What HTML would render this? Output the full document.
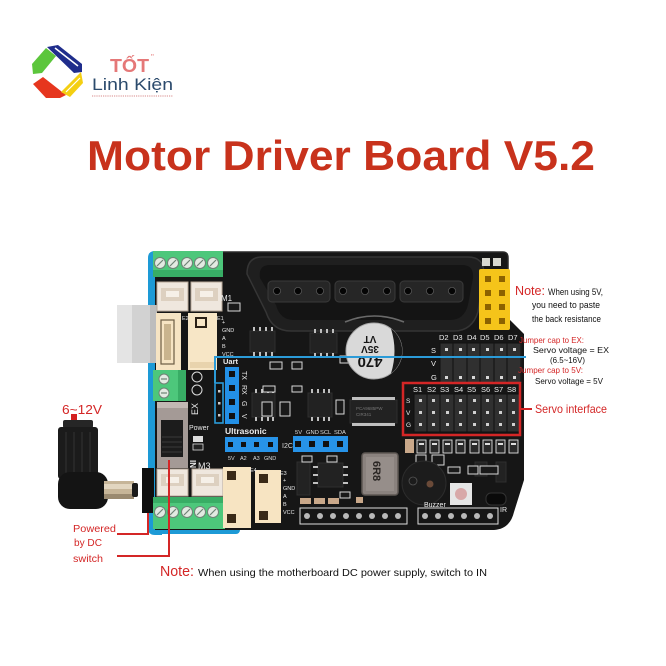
<!DOCTYPE html>
<html><head><meta charset="utf-8"><style>
html,body{margin:0;padding:0;background:#fff;}
svg{display:block;}
text{font-family:"Liberation Sans",sans-serif;}
</style></head><body>
<svg width="666" height="666" viewBox="0 0 666 666" xmlns="http://www.w3.org/2000/svg">
<rect width="666" height="666" fill="#fff"/>

<!-- LOGO -->
<polygon points="47,47 58,45 82,64 82,72 74,73" fill="#1f2d8c"/>
<line x1="55" y1="48" x2="78" y2="66" stroke="#fff" stroke-width="1.5"/>
<polygon points="32,64 46,48 56,56 42,73 33,74" fill="#5cc63c"/>
<polygon points="33,84 43,77 66,95 60,98 46,98" fill="#e6361e"/>
<polygon points="61,92 81,72 83,83 70,97" fill="#f4cf12"/>
<line x1="66" y1="92" x2="80" y2="78" stroke="#fff" stroke-width="1.2"/>
<text x="110" y="72" font-size="18" font-weight="bold" fill="#e57878" textLength="39" lengthAdjust="spacingAndGlyphs">TỐT</text>
<text x="151" y="60" font-size="8" fill="#e57878">"</text>
<text x="92" y="90" font-family="Liberation Serif,serif" font-size="17" fill="#2b4a6c" textLength="81" lengthAdjust="spacingAndGlyphs">Linh Kiện</text>
<line x1="92" y1="96" x2="173" y2="96" stroke="#d88a8a" stroke-width="1" stroke-dasharray="1.2,1"/>

<!-- TITLE -->
<text x="87" y="170" font-size="42" font-weight="bold" fill="#c8321c" textLength="508" lengthAdjust="spacingAndGlyphs">Motor Driver Board V5.2</text>

<!-- Arduino blue underneath -->
<path d="M148,258 Q148,251 155,251 L162,251 L162,535 L155,535 Q148,535 148,528 Z" fill="#1d9ad6"/>
<rect x="150" y="524" width="90" height="10" rx="4" fill="#1d9ad6"/>

<!-- black shield -->
<path d="M155,252 L503,252 Q508,252 508,258 L508,318 L524,334 L524,480 L514,512 Q510,529 494,530 L155,530 Z" fill="#161616"/>
<path d="M222,252 L503,252 Q508,252 508,258 L508,318" fill="none" stroke="#2a2a2a" stroke-width="1.5"/>

<!-- grey USB -->
<rect x="117" y="305" width="40" height="58" fill="#d2d2d2"/>
<rect x="117" y="305" width="15" height="58" fill="#e4e4e4"/>
<rect x="150" y="305" width="7" height="58" fill="#bdbdbd"/>

<!-- DC plug -->
<rect x="71" y="414" width="6" height="9" fill="#d42020"/>
<rect x="63" y="420" width="30" height="8" rx="2" fill="#262626"/>
<rect x="58" y="427" width="40" height="52" rx="3" fill="#1b1b1b"/>
<g stroke="#303030" stroke-width="1.2">
<line x1="66" y1="432" x2="66" y2="474"/><line x1="74" y1="432" x2="74" y2="474"/><line x1="82" y1="432" x2="82" y2="474"/><line x1="90" y1="432" x2="90" y2="474"/>
</g>
<rect x="58" y="472" width="50" height="37" rx="12" fill="#141414"/>
<rect x="104" y="481" width="30" height="18" fill="#c6b598"/>
<rect x="104" y="484" width="30" height="5" fill="#e2d6c0"/>
<rect x="104" y="494" width="30" height="5" fill="#9a8a70"/>
<rect x="132" y="483" width="6" height="14" rx="2" fill="#1a1a1a"/>
<!-- DC jack holder -->
<rect x="142" y="468" width="12" height="45" fill="#0f0f0f"/>

<!-- green terminals -->
<rect x="153" y="251" width="70" height="26" fill="#4dc77b"/>
<rect x="153" y="270" width="70" height="7" fill="#38ad65"/>
<g fill="#e2eae2" stroke="#6f8276" stroke-width="1">
<circle cx="160" cy="263" r="5.5"/><circle cx="173" cy="263" r="5.5"/><circle cx="187" cy="263" r="5.5"/><circle cx="200" cy="263" r="5.5"/><circle cx="213" cy="263" r="5.5"/>
</g>
<g stroke="#6f8276" stroke-width="1.2">
<line x1="157" y1="266" x2="163" y2="260"/><line x1="170" y1="266" x2="176" y2="260"/><line x1="184" y1="266" x2="190" y2="260"/><line x1="197" y1="266" x2="203" y2="260"/><line x1="210" y1="266" x2="216" y2="260"/>
</g>

<rect x="153" y="370" width="33" height="31" fill="#4dc77b"/>
<rect x="178" y="370" width="8" height="31" fill="#38ad65"/>
<g fill="#e2eae2" stroke="#6f8276"><circle cx="164" cy="379" r="5"/><circle cx="164" cy="393" r="5"/></g>
<g stroke="#6f8276" stroke-width="1.2"><line x1="161" y1="379" x2="167" y2="379"/><line x1="161" y1="393" x2="167" y2="393"/></g>

<rect x="153" y="497" width="72" height="32" fill="#4dc77b"/>
<rect x="153" y="497" width="72" height="6" fill="#38ad65"/>
<g fill="#e2eae2" stroke="#6f8276" stroke-width="1">
<circle cx="160" cy="512" r="5.5"/><circle cx="173" cy="512" r="5.5"/><circle cx="187" cy="512" r="5.5"/><circle cx="200" cy="512" r="5.5"/><circle cx="213" cy="512" r="5.5"/>
</g>
<g stroke="#6f8276" stroke-width="1.2">
<line x1="157" y1="515" x2="163" y2="509"/><line x1="170" y1="515" x2="176" y2="509"/><line x1="184" y1="515" x2="190" y2="509"/><line x1="197" y1="515" x2="203" y2="509"/><line x1="210" y1="515" x2="216" y2="509"/>
</g>

<!-- white JSTs -->
<g fill="#efe7de" stroke="#b9aa9a" stroke-width="1">
<rect x="157" y="282" width="31" height="29"/><rect x="191" y="282" width="31" height="29"/>
<rect x="157" y="469" width="31" height="27"/><rect x="192" y="469" width="31" height="27"/>
</g>
<g fill="#ddd0c0">
<rect x="161" y="288" width="23" height="13"/><rect x="195" y="288" width="23" height="13"/>
<rect x="161" y="474" width="23" height="12"/><rect x="196" y="474" width="23" height="12"/>
</g>
<g fill="#f6f0e8"><rect x="166" y="291" width="13" height="6"/><rect x="200" y="291" width="13" height="6"/><rect x="166" y="477" width="13" height="6"/><rect x="201" y="477" width="13" height="6"/></g>

<!-- E2 / E1 cream -->
<rect x="156" y="313" width="25" height="57" fill="#f6e4c3"/>
<rect x="161" y="320" width="13" height="44" fill="none" stroke="#6c5c44" stroke-width="1.2"/>
<g fill="#c9b48e"><rect x="164" y="324" width="7" height="36"/></g>
<rect x="188" y="313" width="29" height="57" fill="#f7e6c6"/>
<rect x="195" y="317" width="12" height="11" fill="#2a2016"/>
<rect x="197" y="319" width="8" height="7" fill="#f7e6c6"/>
<rect x="190" y="362" width="25" height="6" fill="#e8d3ad"/>

<!-- switch -->
<rect x="157" y="402" width="31" height="66" fill="#a49a96"/>
<rect x="157" y="402" width="31" height="6" fill="#c2b8b4"/>
<rect x="161" y="420" width="22" height="37" fill="#1c1c1c"/>
<g stroke="#3a3a3a" stroke-width="1"><line x1="162" y1="437" x2="182" y2="437"/><line x1="162" y1="442" x2="182" y2="442"/><line x1="162" y1="447" x2="182" y2="447"/><line x1="162" y1="452" x2="182" y2="452"/></g>

<!-- E4/E3 cream -->
<rect x="223" y="467" width="28" height="61" fill="#f7e4c2"/>
<rect x="227" y="471" width="9" height="9" fill="#3a2a18"/>
<rect x="227" y="514" width="9" height="9" fill="#3a2a18"/>
<rect x="255" y="470" width="26" height="53" fill="#f7e4c2"/>
<rect x="259" y="474" width="9" height="9" fill="#3a2a18"/>
<rect x="259" y="511" width="9" height="9" fill="#3a2a18"/>

<!-- PS2 connector -->
<path d="M262,257 L468,257 Q484,257 484,274 L478,312 Q472,331 454,331 L291,331 Q272,331 266,312 L247,274 Q247,257 262,257 Z" fill="#1f1f1f" stroke="#353535" stroke-width="1.5"/>
<path d="M270,265 L462,265 Q474,265 473,278 L468,305 Q464,320 450,320 L294,320 Q280,320 276,305 L260,278 Q258,265 270,265 Z" fill="#141414"/>
<g fill="#262626" stroke="#3a3a3a" stroke-width="1">
<rect x="268" y="281" width="62" height="21" rx="4"/><rect x="335" y="281" width="60" height="21" rx="4"/><rect x="400" y="281" width="63" height="21" rx="4"/>
</g>
<g fill="#050505" stroke="#555" stroke-width="0.8">
<circle cx="277" cy="291" r="3.6"/><circle cx="298" cy="291" r="3.6"/><circle cx="320" cy="291" r="3.6"/>
<circle cx="343" cy="291" r="3.6"/><circle cx="365" cy="291" r="3.6"/><circle cx="387" cy="291" r="3.6"/>
<circle cx="408" cy="291" r="3.6"/><circle cx="430" cy="291" r="3.6"/><circle cx="452" cy="291" r="3.6"/>
</g>
<path d="M345,322 Q374,310 404,322" fill="none" stroke="#6a6a6a" stroke-width="1.5"/>

<!-- small parts near top right -->
<rect x="482" y="258" width="8" height="8" fill="#d8d8d0"/><rect x="493" y="258" width="8" height="8" fill="#d8d8d0"/>

<!-- yellow header -->
<rect x="479" y="269" width="31" height="61" rx="2" fill="#f5c41a"/>
<g fill="#8c6200">
<rect x="485" y="276" width="6" height="6"/><rect x="499" y="276" width="6" height="6"/>
<rect x="485" y="290" width="6" height="6"/><rect x="499" y="290" width="6" height="6"/>
<rect x="485" y="304" width="6" height="6"/><rect x="499" y="304" width="6" height="6"/>
<rect x="485" y="318" width="6" height="6"/><rect x="499" y="318" width="6" height="6"/>
</g>

<!-- chips -->
<g fill="#222" stroke="#2f2f2f" stroke-width="1">
<rect x="250" y="331" width="25" height="21"/><rect x="310" y="333" width="27" height="20"/>
<rect x="252" y="393" width="23" height="24"/><rect x="308" y="393" width="24" height="24"/>
<rect x="350" y="400" width="47" height="23"/><rect x="318" y="463" width="25" height="24"/>
<rect x="297" y="462" width="13" height="33"/>
<rect x="475" y="462" width="12" height="14"/><rect x="496" y="462" width="10" height="20"/>
</g>
<g fill="#bfbfbf">
<rect x="253" y="327" width="2" height="4"/><rect x="259" y="327" width="2" height="4"/><rect x="265" y="327" width="2" height="4"/><rect x="271" y="327" width="2" height="4"/>
<rect x="253" y="352" width="2" height="4"/><rect x="259" y="352" width="2" height="4"/><rect x="265" y="352" width="2" height="4"/><rect x="271" y="352" width="2" height="4"/>
<rect x="314" y="329" width="2" height="4"/><rect x="320" y="329" width="2" height="4"/><rect x="326" y="329" width="2" height="4"/><rect x="332" y="329" width="2" height="4"/>
<rect x="314" y="353" width="2" height="4"/><rect x="320" y="353" width="2" height="4"/><rect x="326" y="353" width="2" height="4"/><rect x="332" y="353" width="2" height="4"/>
<rect x="255" y="389" width="2" height="4"/><rect x="261" y="389" width="2" height="4"/><rect x="267" y="389" width="2" height="4"/><rect x="272" y="389" width="2" height="4"/>
<rect x="255" y="417" width="2" height="4"/><rect x="261" y="417" width="2" height="4"/><rect x="267" y="417" width="2" height="4"/><rect x="272" y="417" width="2" height="4"/>
<rect x="311" y="389" width="2" height="4"/><rect x="317" y="389" width="2" height="4"/><rect x="323" y="389" width="2" height="4"/><rect x="328" y="389" width="2" height="4"/>
<rect x="311" y="417" width="2" height="4"/><rect x="317" y="417" width="2" height="4"/><rect x="323" y="417" width="2" height="4"/><rect x="328" y="417" width="2" height="4"/>
<rect x="352" y="397" width="43" height="3"/><rect x="352" y="423" width="43" height="3"/>
<rect x="313" y="466" width="5" height="2"/><rect x="313" y="474" width="5" height="2"/><rect x="313" y="482" width="5" height="2"/>
<rect x="343" y="466" width="5" height="2"/><rect x="343" y="474" width="5" height="2"/><rect x="343" y="482" width="5" height="2"/>
</g>
<text x="356" y="410" font-size="4.5" fill="#777">PCA9685PW</text>
<text x="356" y="416" font-size="4.5" fill="#777">CIR341</text>

<!-- small smd parts with white outlines -->
<g fill="#1a1a1a" stroke="#d8d8d8" stroke-width="1">
<rect x="228" y="303" width="12" height="8"/><rect x="270" y="362" width="12" height="7"/><rect x="292" y="362" width="10" height="7"/>
<rect x="263" y="386" width="12" height="6"/><rect x="262" y="402" width="10" height="14"/><rect x="280" y="402" width="10" height="14"/>
<rect x="292" y="386" width="10" height="6"/><rect x="336" y="400" width="8" height="14"/><rect x="340" y="356" width="10" height="7"/>
<rect x="302" y="456" width="10" height="6"/><rect x="327" y="456" width="10" height="6"/><rect x="340" y="492" width="10" height="6"/>
<rect x="416" y="455" width="10" height="14"/><rect x="432" y="455" width="12" height="10"/><rect x="448" y="467" width="12" height="6"/>
<rect x="468" y="466" width="10" height="8"/><rect x="480" y="466" width="18" height="8"/>
</g>
<g fill="#2a2a2a" stroke="#e0e0e0" stroke-width="0.9">
<rect x="417" y="440" width="9" height="13"/><rect x="430" y="440" width="9" height="13"/><rect x="443" y="440" width="9" height="13"/><rect x="456" y="440" width="9" height="13"/>
<rect x="470" y="440" width="9" height="13"/><rect x="483" y="440" width="9" height="13"/><rect x="496" y="440" width="9" height="13"/><rect x="509" y="440" width="9" height="13"/>
</g>
<g fill="#ddd"><rect x="419" y="443" width="5" height="2"/><rect x="432" y="443" width="5" height="2"/><rect x="445" y="443" width="5" height="2"/><rect x="458" y="443" width="5" height="2"/><rect x="472" y="443" width="5" height="2"/><rect x="485" y="443" width="5" height="2"/><rect x="498" y="443" width="5" height="2"/><rect x="511" y="443" width="5" height="2"/></g>
<rect x="405" y="439" width="9" height="14" fill="#c9a88a"/>
<g fill="#c9a88a"><rect x="300" y="498" width="11" height="6"/><rect x="314" y="498" width="11" height="6"/><rect x="328" y="498" width="11" height="6"/></g>
<rect x="356" y="497" width="7" height="6" fill="#c9a88a"/>

<!-- D2-D7 header -->
<rect x="440" y="343" width="82" height="40" fill="#242424"/>
<g fill="#303030" stroke="#111" stroke-width="1">
<rect x="440" y="343" width="13" height="40"/><rect x="453" y="343" width="14" height="40"/><rect x="467" y="343" width="13" height="40"/>
<rect x="480" y="343" width="14" height="40"/><rect x="494" y="343" width="13" height="40"/><rect x="507" y="343" width="14" height="40"/>
</g>
<g fill="#d8d8d8">
<rect x="445" y="348" width="3" height="3"/><rect x="459" y="348" width="3" height="3"/><rect x="472" y="348" width="3" height="3"/><rect x="486" y="348" width="3" height="3"/><rect x="500" y="348" width="3" height="3"/><rect x="513" y="348" width="3" height="3"/>
<rect x="445" y="376" width="3" height="3"/><rect x="459" y="376" width="3" height="3"/><rect x="472" y="376" width="3" height="3"/><rect x="486" y="376" width="3" height="3"/><rect x="500" y="376" width="3" height="3"/><rect x="513" y="376" width="3" height="3"/>
</g>
<g font-size="7.5" fill="#eee">
<text x="439" y="340">D2</text><text x="453" y="340">D3</text><text x="467" y="340">D4</text><text x="480" y="340">D5</text><text x="494" y="340">D6</text><text x="508" y="340">D7</text>
<text x="431" y="353">S</text><text x="431" y="366">V</text><text x="431" y="380">G</text>
</g>

<!-- servo header -->
<rect x="414" y="394" width="106" height="38" fill="#242424"/>
<g fill="#303030" stroke="#101010" stroke-width="1">
<rect x="414" y="394" width="13" height="38"/><rect x="427" y="394" width="13" height="38"/><rect x="440" y="394" width="14" height="38"/><rect x="454" y="394" width="13" height="38"/>
<rect x="467" y="394" width="14" height="38"/><rect x="481" y="394" width="13" height="38"/><rect x="494" y="394" width="13" height="38"/><rect x="507" y="394" width="13" height="38"/>
</g>
<g fill="#d0d0d0">
<rect x="419" y="399" width="3" height="3"/><rect x="432" y="399" width="3" height="3"/><rect x="446" y="399" width="3" height="3"/><rect x="459" y="399" width="3" height="3"/><rect x="473" y="399" width="3" height="3"/><rect x="486" y="399" width="3" height="3"/><rect x="499" y="399" width="3" height="3"/><rect x="512" y="399" width="3" height="3"/>
<rect x="419" y="411" width="3" height="3"/><rect x="432" y="411" width="3" height="3"/><rect x="446" y="411" width="3" height="3"/><rect x="459" y="411" width="3" height="3"/><rect x="473" y="411" width="3" height="3"/><rect x="486" y="411" width="3" height="3"/><rect x="499" y="411" width="3" height="3"/><rect x="512" y="411" width="3" height="3"/>
<rect x="419" y="423" width="3" height="3"/><rect x="432" y="423" width="3" height="3"/><rect x="446" y="423" width="3" height="3"/><rect x="459" y="423" width="3" height="3"/><rect x="473" y="423" width="3" height="3"/><rect x="486" y="423" width="3" height="3"/><rect x="499" y="423" width="3" height="3"/><rect x="512" y="423" width="3" height="3"/>
</g>
<g font-size="7.5" fill="#eee">
<text x="413" y="392">S1</text><text x="427" y="392">S2</text><text x="440" y="392">S3</text><text x="454" y="392">S4</text><text x="467" y="392">S5</text><text x="481" y="392">S6</text><text x="494" y="392">S7</text><text x="507" y="392">S8</text>
<text x="406" y="403" font-size="6.5">S</text><text x="406" y="415" font-size="6.5">V</text><text x="406" y="427" font-size="6.5">G</text>
</g>
<rect x="403" y="383" width="117" height="52" fill="none" stroke="#d42626" stroke-width="2.5"/>

<!-- capacitor -->
<circle cx="374" cy="351" r="28" fill="#d9d9d9"/>
<circle cx="374" cy="351" r="28" fill="none" stroke="#aaa" stroke-width="1"/>
<path d="M391,328.6 A28,28 0 0 1 391,373.4 Q398,351 391,328.6 Z" fill="#1a1a1a"/>
<g transform="rotate(180 374 351)" fill="#151515" font-weight="bold" text-anchor="middle">
<text x="378" y="345" font-size="15">470</text>
<text x="378" y="356" font-size="10">35V</text>
<text x="378" y="366" font-size="10">VT</text>
</g>

<!-- inductor 6R8 -->
<rect x="362" y="453" width="36" height="42" rx="3" fill="#8a827e" stroke="#5e5854" stroke-width="1.5"/>
<rect x="366" y="457" width="28" height="34" fill="#968e8a"/>
<text transform="translate(373 461) rotate(90)" font-size="11" font-weight="bold" fill="#2a2624">6R8</text>

<!-- buzzer -->
<circle cx="424" cy="483" r="22" fill="#1c1c1c" stroke="#2c2c2c" stroke-width="1"/>
<circle cx="430" cy="484" r="3.5" fill="#6a4a38"/>
<circle cx="413" cy="481" r="4" fill="none" stroke="#555" stroke-width="0.8"/>
<!-- RGB LED -->
<rect x="450" y="483" width="22" height="22" fill="#e6e6e6"/>
<circle cx="461" cy="494" r="6" fill="#d8a8a8"/>
<!-- IR receiver -->
<rect x="486" y="493" width="20" height="12" rx="5" fill="#0a0a0a" stroke="#333"/>

<!-- bottom pin headers -->
<rect x="300" y="508" width="107" height="16" fill="none" stroke="#ddd" stroke-width="1"/>
<g fill="#b8b8b8"><circle cx="307" cy="516" r="3"/><circle cx="320" cy="516" r="3"/><circle cx="333" cy="516" r="3"/><circle cx="346" cy="516" r="3"/><circle cx="359" cy="516" r="3"/><circle cx="372" cy="516" r="3"/><circle cx="385" cy="516" r="3"/><circle cx="398" cy="516" r="3"/></g>
<rect x="418" y="508" width="80" height="16" fill="none" stroke="#ddd" stroke-width="1"/>
<g fill="#b8b8b8"><circle cx="425" cy="516" r="3"/><circle cx="438" cy="516" r="3"/><circle cx="451" cy="516" r="3"/><circle cx="464" cy="516" r="3"/><circle cx="477" cy="516" r="3"/><circle cx="490" cy="516" r="3"/></g>
<text x="424" y="507" font-size="7" fill="#eee">Buzzer</text>
<text x="500" y="512" font-size="7" fill="#eee">IR</text>

<!-- blue line & jumper -->
<line x1="215" y1="357" x2="526" y2="357" stroke="#2b9bd8" stroke-width="2"/>
<line x1="215" y1="356" x2="215" y2="383" stroke="#2b9bd8" stroke-width="2"/>
<rect x="215" y="383" width="8" height="40" fill="#111" stroke="#2b9bd8" stroke-width="1.6"/>
<g fill="#ccc"><rect x="218" y="390" width="2.5" height="2.5"/><rect x="218" y="402" width="2.5" height="2.5"/><rect x="218" y="414" width="2.5" height="2.5"/></g>

<!-- Uart header -->
<rect x="225" y="367" width="14" height="57" fill="#2390e6"/>
<g fill="#111"><rect x="229" y="371" width="6" height="6"/><rect x="229" y="385" width="6" height="6"/><rect x="229" y="399" width="6" height="6"/><rect x="229" y="413" width="6" height="6"/></g>
<text x="223" y="364" font-size="7.5" font-weight="bold" fill="#eee">Uart</text>
<g font-size="7" fill="#eee">
<text transform="translate(242 371) rotate(90)">TX</text>
<text transform="translate(242 385) rotate(90)">RX</text>
<text transform="translate(242 401) rotate(90)">G</text>
<text transform="translate(242 414) rotate(90)">V</text>
</g>

<!-- Ultrasonic header -->
<rect x="225" y="437" width="53" height="15" fill="#2793e8"/>
<g fill="#111"><rect x="228" y="442" width="5" height="5"/><rect x="241" y="442" width="5" height="5"/><rect x="254" y="442" width="5" height="5"/><rect x="268" y="442" width="5" height="5"/></g>
<text x="225" y="434" font-size="8.5" font-weight="bold" fill="#eee">Ultrasonic</text>
<g font-size="5.5" fill="#ddd"><text x="228" y="460">5V</text><text x="240" y="460">A2</text><text x="253" y="460">A3</text><text x="264" y="460">GND</text></g>

<!-- I2C header -->
<rect x="293" y="436" width="55" height="16" fill="#2793e8"/>
<g fill="#111"><rect x="295" y="441" width="6" height="6"/><rect x="309" y="441" width="6" height="6"/><rect x="323" y="441" width="6" height="6"/><rect x="337" y="441" width="6" height="6"/></g>
<g font-size="5.8" fill="#ddd"><text x="295" y="434">5V</text><text x="306" y="434">GND</text><text x="320" y="434">SCL</text><text x="334" y="434">SDA</text></g>
<text x="282" y="448" font-size="7" fill="#ddd">I2C</text>

<!-- misc silkscreen labels -->
<g fill="#e8e8e8">
<text x="221" y="301" font-size="8">M1</text>
<text x="182" y="320" font-size="5.5">E2</text><text x="217" y="320" font-size="5.5">E1</text>
<text x="222" y="324" font-size="5.5">+</text><text x="222" y="332" font-size="5.5">GND</text><text x="222" y="340" font-size="5.5">A</text><text x="222" y="348" font-size="5.5">B</text><text x="222" y="356" font-size="5.5">VCC</text>
<text x="189" y="430" font-size="7">Power</text>
<text x="198" y="469" font-size="9">M3</text>
<text transform="translate(190 460) rotate(90)" font-size="8" font-weight="bold">IN</text>
<text transform="translate(198 415) rotate(-90)" font-size="9">EX</text>
<text x="283" y="482" font-size="5.5">+</text><text x="283" y="490" font-size="5.5">GND</text><text x="283" y="498" font-size="5.5">A</text><text x="283" y="506" font-size="5.5">B</text><text x="283" y="514" font-size="5.5">VCC</text>
<text x="250" y="472" font-size="5.5">E4</text><text x="280" y="475" font-size="5.5">E3</text>
</g>
<circle cx="197" cy="377" r="5" fill="none" stroke="#ddd" stroke-width="1"/>
<circle cx="197" cy="390" r="5" fill="none" stroke="#ddd" stroke-width="1"/>
<rect x="193" y="436" width="10" height="6" fill="#ddd"/>
<rect x="193" y="444" width="10" height="6" fill="#222" stroke="#ddd" stroke-width="0.8"/>

<!-- red annotation lines -->
<g stroke="#d42626" stroke-width="2" fill="none">
<polyline points="148,513 148,534 117,534"/>
<polyline points="169,460 169,556 117,556"/>
<line x1="520" y1="409" x2="532" y2="409"/>
</g>

<!-- left annotations -->
<text x="62" y="414" font-size="12.5" fill="#d42626" textLength="40" lengthAdjust="spacingAndGlyphs">6~12V</text>
<text x="73" y="532" font-size="10.5" fill="#d42626" textLength="43" lengthAdjust="spacingAndGlyphs">Powered</text>
<text x="74" y="546" font-size="10.5" fill="#d42626" textLength="28" lengthAdjust="spacingAndGlyphs">by DC</text>
<text x="73" y="562" font-size="10.5" fill="#d42626" textLength="30" lengthAdjust="spacingAndGlyphs">switch</text>

<!-- bottom note -->
<text x="160" y="576" font-size="15" fill="#d42626" textLength="34" lengthAdjust="spacingAndGlyphs">Note:</text>
<text x="198" y="576" font-size="10.5" fill="#111" textLength="289" lengthAdjust="spacingAndGlyphs">When using the motherboard DC power supply, switch to IN</text>

<!-- right annotations -->
<text x="515" y="295" font-size="13" fill="#d42626" textLength="30" lengthAdjust="spacingAndGlyphs">Note:</text>
<text x="548" y="295" font-size="9" fill="#111" textLength="55" lengthAdjust="spacingAndGlyphs">When using 5V,</text>
<text x="532" y="308" font-size="9" fill="#111" textLength="68" lengthAdjust="spacingAndGlyphs">you need to paste</text>
<text x="532" y="322" font-size="9" fill="#111" textLength="69" lengthAdjust="spacingAndGlyphs">the back resistance</text>
<text x="519" y="343" font-size="8.5" fill="#d42626" textLength="65" lengthAdjust="spacingAndGlyphs">Jumper cap to EX:</text>
<text x="533" y="353" font-size="8.5" fill="#111" textLength="76" lengthAdjust="spacingAndGlyphs">Servo voltage = EX</text>
<text x="550" y="363" font-size="8.5" fill="#111" textLength="35" lengthAdjust="spacingAndGlyphs">(6.5~16V)</text>
<text x="518" y="373" font-size="8.5" fill="#d42626" textLength="65" lengthAdjust="spacingAndGlyphs">Jumper cap to 5V:</text>
<text x="535" y="384" font-size="8.5" fill="#111" textLength="68" lengthAdjust="spacingAndGlyphs">Servo voltage = 5V</text>
<text x="535" y="413" font-size="12" fill="#d42626" textLength="72" lengthAdjust="spacingAndGlyphs">Servo interface</text>
</svg>
</body></html>
